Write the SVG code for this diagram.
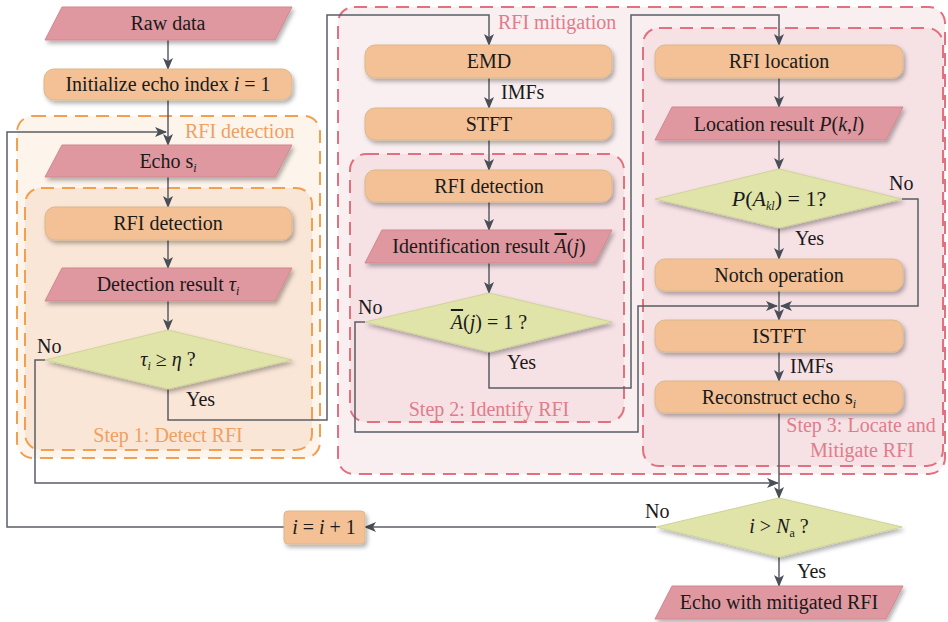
<svg xmlns="http://www.w3.org/2000/svg" width="948" height="622" viewBox="0 0 948 622">
<defs>
<filter id="sh" x="-10%" y="-20%" width="130%" height="160%">
<feDropShadow dx="2" dy="3" stdDeviation="2" flood-color="#000" flood-opacity="0.3"/>
</filter>
<marker id="ar" viewBox="0 0 12 10" refX="11" refY="5" markerWidth="12" markerHeight="10" markerUnits="userSpaceOnUse" orient="auto">
<path d="M0,0 L12,5 L0,10 L3,5 z" fill="#4a4e57"/>
</marker>
<style>
text{font-family:'Liberation Serif','Times New Roman',Times,Tinos,'Noto Serif','DejaVu Serif',FreeSerif,serif;font-size:20px;fill:#1a1a1a}
.c{text-anchor:middle}
.box{fill:#F3C195;stroke:#D9B98A;stroke-width:1;filter:url(#sh)}
.io{fill:#DF97A0;stroke:#D08890;stroke-width:1;filter:url(#sh)}
.dia{fill:#E0E4A8;stroke:#CFD39A;stroke-width:1;filter:url(#sh)}
.ln{fill:none;stroke:#5a5e66;stroke-width:1.5}
.arr{marker-end:url(#ar)}
.gO{fill:#FDF4EC;stroke:#F0A050;stroke-width:2;stroke-dasharray:13 8}
.gO2{fill:#FAE6D7;stroke:#F0A050;stroke-width:2;stroke-dasharray:13 8}
.gP{fill:#F9EEF0;stroke:#E2707F;stroke-width:2;stroke-dasharray:13 8}
.gP2{fill:#F6E1E5;stroke:#E2707F;stroke-width:2;stroke-dasharray:13 8}
.lo{fill:#F0A060;font-size:20px}
.lp{fill:#E07D8C;font-size:20px}
.m{font-style:italic}
.ov{text-decoration:overline}
</style>
</defs>

<g id="groups">
<rect class="gO" x="17" y="116" width="303" height="342" rx="16"/>
<rect class="gO2" x="25" y="188" width="287" height="262" rx="16"/>
<rect class="gP" x="338" y="7" width="607" height="467" rx="16"/>
<rect class="gP2" x="350" y="154" width="274" height="268" rx="16"/>
<rect class="gP2" x="643" y="28" width="300" height="438" rx="16"/>
<text class="lo" x="185" y="138">RFI detection</text>
<text class="lo c" x="168" y="442">Step 1: Detect RFI</text>
<text class="lp" x="498" y="29">RFI mitigation</text>
<text class="lp c" x="489" y="416">Step 2: Identify RFI</text>
<text class="lp c" x="861" y="432">Step 3: Locate and</text>
<text class="lp c" x="862" y="457">Mitigate RFI</text>
</g>

<g id="connectors">
<path class="ln arr" d="M168,40 V69"/>
<path class="ln arr" d="M168,100 V145"/>
<path class="ln arr" d="M168,177 V207"/>
<path class="ln arr" d="M168,240 V268"/>
<path class="ln arr" d="M168,301 V330"/>
<path class="ln arr" d="M168,389 V420 H327 V15 H489 V45"/>
<path class="ln arr" d="M45,360 H35 V483 H778"/>
<path class="ln arr" d="M489,78 V108"/>
<path class="ln arr" d="M489,140 V170"/>
<path class="ln arr" d="M489,202 V230"/>
<path class="ln arr" d="M489,263 V293"/>
<path class="ln arr" d="M489,352 V388 H631 V15 H779 V45"/>
<path class="ln arr" d="M365,322 H355 V432 H638 V306 H777"/>
<path class="ln arr" d="M779,78 V107"/>
<path class="ln arr" d="M779,140 V169"/>
<path class="ln arr" d="M779,228 V259"/>
<path class="ln arr" d="M902,199 H918 V306 H781"/>
<path class="ln arr" d="M779,291 V320"/>
<path class="ln arr" d="M779,352 V381"/>
<path class="ln arr" d="M779,413 V498"/>
<path class="ln arr" d="M656,527 H365"/>
<path class="ln arr" d="M284,527 H7 V132 H166"/>
<path class="ln arr" d="M779,557 V586"/>
<text x="37" y="353">No</text>
<text x="186" y="406">Yes</text>
<text x="501" y="99">IMFs</text>
<text x="358" y="314">No</text>
<text x="507" y="369">Yes</text>
<text x="889" y="190">No</text>
<text x="795" y="245">Yes</text>
<text x="790" y="373">IMFs</text>
<text x="645" y="518">No</text>
<text x="797" y="578">Yes</text>
</g>

<g id="raw-data">
<polygon class="io" points="62,7 292,7 275,40 45,40"/>
<text class="c" x="168" y="30">Raw data</text>
</g>
<g id="init">
<rect class="box" x="44" y="69" width="248" height="31" rx="10"/>
<text class="c" x="168" y="91">Initialize echo index <tspan class="m">i</tspan> = 1</text>
</g>
<g id="echo">
<polygon class="io" points="62,145 292,145 275,177 45,177"/>
<text class="c" x="168" y="168">Echo s<tspan class="m" font-size="12" dy="4">i</tspan></text>
</g>
<g id="rfi-detection-1">
<rect class="box" x="45" y="207" width="247" height="33" rx="10"/>
<text class="c" x="168" y="230">RFI detection</text>
</g>
<g id="detection-result">
<polygon class="io" points="62,268 292,268 275,301 45,301"/>
<text class="c" x="168" y="291">Detection result <tspan class="m">τ</tspan><tspan class="m" font-size="12" dy="4">i</tspan></text>
</g>
<g id="decision-1">
<polygon class="dia" points="168,330 292,360 168,389 45,360"/>
<text class="c" x="168" y="366"><tspan class="m">τ</tspan><tspan class="m" font-size="12" dy="4">i</tspan><tspan dy="-4"> ≥ </tspan><tspan class="m">η</tspan> ?</text>
</g>

<g id="emd">
<rect class="box" x="365" y="45" width="247" height="33" rx="10"/>
<text class="c" x="489" y="68">EMD</text>
</g>
<g id="stft">
<rect class="box" x="365" y="108" width="247" height="32" rx="10"/>
<text class="c" x="489" y="131">STFT</text>
</g>
<g id="rfi-detection-2">
<rect class="box" x="365" y="170" width="247" height="32" rx="10"/>
<text class="c" x="489" y="193">RFI detection</text>
</g>
<g id="identification-result">
<polygon class="io" points="382,230 612,230 595,263 365,263"/>
<text class="c" x="489" y="253">Identification result <tspan class="m ov">A</tspan>(<tspan class="m">j</tspan>)</text>
</g>
<g id="decision-2">
<polygon class="dia" points="489,293 612,322 489,352 365,322"/>
<text class="c" x="489" y="329"><tspan class="m ov">A</tspan>(<tspan class="m">j</tspan>) = 1 ?</text>
</g>

<g id="rfi-location">
<rect class="box" x="655" y="45" width="248" height="33" rx="10"/>
<text class="c" x="779" y="68">RFI location</text>
</g>
<g id="location-result">
<polygon class="io" points="672,107 903,107 886,140 655,140"/>
<text class="c" x="779" y="131">Location result <tspan class="m">P</tspan>(<tspan class="m">k</tspan>,<tspan class="m">l</tspan>)</text>
</g>
<g id="decision-3">
<polygon class="dia" points="779,169 902,199 779,228 655,199"/>
<text class="c" x="779" y="206" style="font-size:22px"><tspan class="m">P</tspan>(<tspan class="m">A</tspan><tspan class="m" font-size="12" dy="4">kl</tspan><tspan dy="-4">) = 1?</tspan></text>
</g>
<g id="notch">
<rect class="box" x="655" y="259" width="248" height="32" rx="10"/>
<text class="c" x="779" y="282">Notch operation</text>
</g>
<g id="istft">
<rect class="box" x="655" y="320" width="248" height="32" rx="10"/>
<text class="c" x="779" y="343">ISTFT</text>
</g>
<g id="reconstruct">
<rect class="box" x="655" y="381" width="248" height="32" rx="10"/>
<text class="c" x="779" y="404">Reconstruct echo s<tspan class="m" font-size="12" dy="4">i</tspan></text>
</g>

<g id="decision-final">
<polygon class="dia" points="779,498 902,527 779,557 656,527"/>
<text class="c" x="779" y="533"><tspan class="m">i</tspan> &gt; <tspan class="m">N</tspan><tspan font-size="12" dy="4">a</tspan><tspan dy="-4"> ?</tspan></text>
</g>
<g id="increment">
<rect class="box" x="284" y="511" width="81" height="33" rx="4"/>
<text class="c" x="324" y="534"><tspan class="m">i</tspan> = <tspan class="m">i</tspan> + 1</text>
</g>
<g id="output">
<polygon class="io" points="672,586 903,586 886,619 655,619"/>
<text class="c" x="779" y="609">Echo with mitigated RFI</text>
</g>
</svg>
